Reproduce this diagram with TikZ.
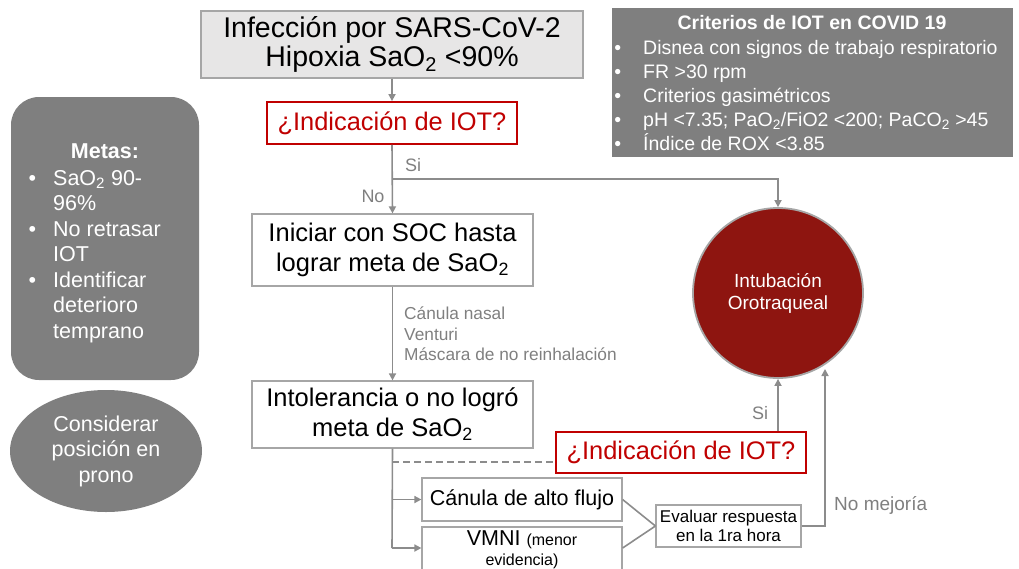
\documentclass[tikz,border=0pt]{standalone}
\usepackage{fontspec}
\setmainfont{Liberation Sans}
\usetikzlibrary{arrows.meta,shapes.geometric,calc}
\definecolor{boxgray}{HTML}{A6A6A6}
\definecolor{lineg}{HTML}{8C8C8C}
\definecolor{labg}{HTML}{7F7F7F}
\definecolor{redc}{HTML}{C00000}
\definecolor{darkred}{HTML}{8E1510}
\definecolor{panel}{HTML}{7F7F7F}
\definecolor{topfill}{HTML}{E7E6E6}
\newcommand\fsTop{\fontsize{28.5}{31}\selectfont}
\newcommand\fsQ{\fontsize{25.4}{28}\selectfont}
\newcommand\fsBox{\fontsize{25.5}{30}\selectfont}
\newcommand\fsMed{\fontsize{21.5}{25.5}\selectfont}
\newcommand\fsLab{\fontsize{17.3}{20.5}\selectfont}
\newcommand\fsSi{\fontsize{18}{20}\selectfont}
\newcommand\fsNm{\fontsize{19}{21}\selectfont}
\newcommand\fsCrit{\fontsize{19.5}{24}\selectfont}
\newcommand\fsCirc{\fontsize{19}{22}\selectfont}
\newcommand\fsEval{\fontsize{17}{19}\selectfont}
\newcommand\fsSmall{\fontsize{16}{20}\selectfont}
\tikzset{
  wbox/.style={draw=boxgray, line width=1.2pt, fill=white, inner sep=0pt, align=center},
  qbox/.style={draw=redc, line width=1.8pt, fill=white, text=redc, inner sep=0pt, align=center, font=\fsQ, minimum width=250pt, minimum height=42pt},
  conn/.style={draw=lineg, line width=1.6pt},
  arr/.style={conn, -{Triangle[length=7pt,width=7pt]}},
  lbl/.style={text=labg, inner sep=0pt},
  paneltxt/.style={text=white, inner sep=0pt},
}
\begin{document}
\begin{tikzpicture}[x=1pt,y=-1pt]
\useasboundingbox (0,0) rectangle (1019,568);

% left panels
\node[rounded corners=28pt, fill=panel, minimum width=188pt, minimum height=283pt, inner sep=0pt] (metas) at (105,238.5) {};
\node[paneltxt, font=\bfseries\fsMed] (metasT) at (105,151) {Metas:};
\node[paneltxt, font=\fsMed, anchor=north west, align=left] (metasL) at (53,170) {\llap{•\hspace{17pt}}SaO\textsubscript{2} 90-\\96\%\\\llap{•\hspace{17pt}}No retrasar\\IOT\\\llap{•\hspace{17pt}}Identificar\\deterioro\\temprano};
\node[ellipse, fill=panel, minimum width=192pt, minimum height=122pt, inner sep=0pt, text=white, font=\fsMed, align=center] (prono) at (106,451) {\raisebox{0pt}[0pt][0pt]{}Considerar\\posición en\\prono};

% criteria panel
\node[fill=panel, minimum width=401pt, minimum height=149pt, inner sep=0pt] (crit) at (812.5,82.5) {};
\node[paneltxt, font=\bfseries\fsCrit] (critT) at (812,23) {Criterios de IOT en COVID 19};
\node[paneltxt, font=\fsCrit, anchor=north west, align=left] (critL) at (643,40) {\llap{•\hspace{22pt}}Disnea con signos de trabajo respiratorio\\\llap{•\hspace{22pt}}FR >30 rpm\\\llap{•\hspace{22pt}}Criterios gasimétricos\\\llap{•\hspace{22pt}}pH <7.35; PaO\textsubscript{2}/FiO2 <200; PaCO\textsubscript{2} >45\\\llap{•\hspace{22pt}}Índice de ROX <3.85};

% main flow
\node[wbox, fill=topfill, minimum width=382pt, minimum height=67pt, font=\fsTop] (top) at (392,44.5) {\raisebox{-2pt}{Infección por SARS-CoV-2}\\Hipoxia SaO\textsubscript{2} <90\%};
\node[qbox] (q1) at (392,123) {¿Indicación de IOT?};
\node[circle, draw=boxgray, line width=1.8pt, fill=darkred, minimum size=170pt, inner sep=0pt, text=white, font=\fsCirc, align=center] (iot) at (778,293) {Intubación\\Orotraqueal};
\node[wbox, minimum width=281pt, minimum height=72pt, font=\fsBox] (soc) at (392.5,250) {Iniciar con SOC hasta\\lograr meta de SaO\textsubscript{2}};
\node[wbox, minimum width=281pt, minimum height=67pt, font=\fsBox] (intol) at (392.5,414.5) {Intolerancia o no logró\\meta de SaO\textsubscript{2}};
\node[qbox, minimum height=41pt] (q2) at (681,452.5) {¿Indicación de IOT?};
\node[wbox, minimum width=200pt, minimum height=43pt, font=\fontsize{21.5}{24}\selectfont] (canula) at (522,499.5) {Cánula de alto flujo};
\node[wbox, minimum width=200pt, minimum height=46pt, font=\fontsize{21.5}{20}\selectfont] (vmni) at (522,550) {VMNI {\fsSmall (menor}\\{\fsSmall evidencia)}};
\node[wbox, minimum width=145pt, minimum height=42pt, font=\fsEval] (eval) at (728.5,526) {Evaluar respuesta\\en la 1ra hora};

% connectors
\draw[arr] (top) -- (q1);
\coordinate (siJ) at (392,179);
\draw[arr] (q1.south) -- (soc.north);
\draw[arr] (siJ) -| (iot.north);
\node[lbl, font=\fsSi] (si1) at (413,165) {Si};
\node[lbl, font=\fsSi] (no1) at (373,196) {No};

\draw[arr] (soc.south) -- (intol.north);
\node[lbl, font=\fsLab, anchor=west, align=left] (vias) at (404,334) {Cánula nasal\\Venturi\\Máscara de no reinhalación};

\coordinate (d1) at (392,462);
\coordinate (d2) at (392,499.5);
\coordinate (d3) at (392,548);
\draw[conn] (intol.south) -- (d3);
\draw[arr] (d2) -- (canula.west);
\draw[arr] (d3) -- (d3 -| vmni.west);
\draw[conn, dash pattern=on 7pt off 4pt] (d1) -- (d1 -| q2.west);
\draw[conn] (canula.east) -- (eval.west);
\draw[conn] (d3 -| vmni.east) -- (eval.west);
\coordinate (nmTip) at (825,369);
\draw[arr] (eval.east) -| (nmTip);
\node[lbl, font=\fsNm, anchor=west] (nomej) at (834,505) {No mejoría};
\draw[arr] (q2.north -| iot.south) -- (iot.south);
\node[lbl, font=\fsSi] (si2) at (760,413) {Si};
\end{tikzpicture}
\end{document}
